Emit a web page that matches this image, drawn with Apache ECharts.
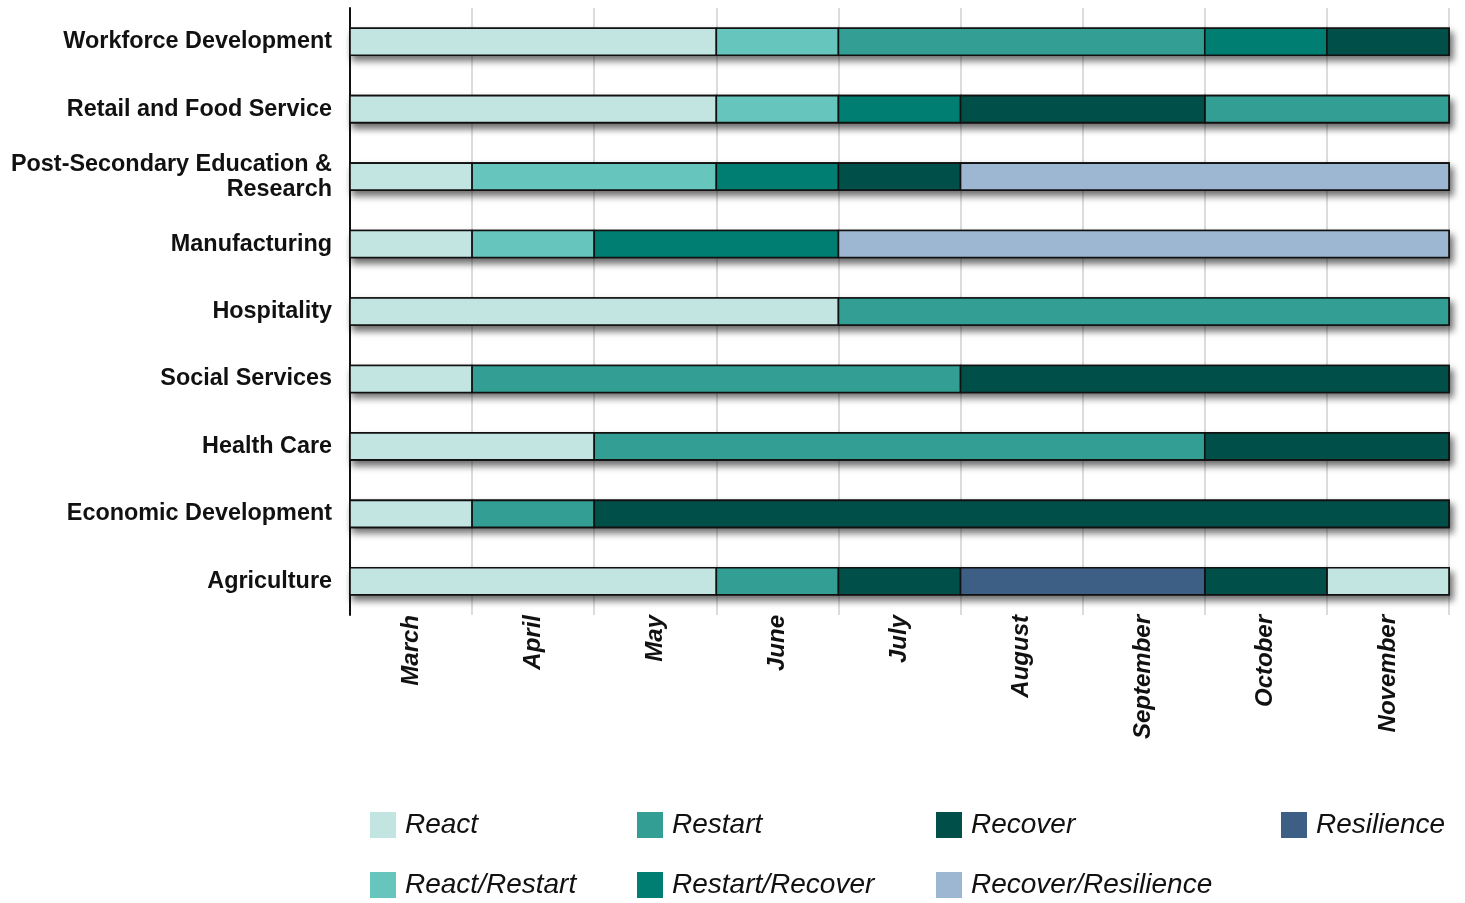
<!DOCTYPE html>
<html>

<head>
    <meta charset="utf8">
    <script src="https://cdn.jsdelivr.net/npm/echarts@6/dist/echarts.min.js"></script>
    <style>
        html, body { margin: 0; padding: 0; background: #fff; }
        #main { width: 1465px; height: 903px; }
    </style>
</head>

<body>
    <div id="main"></div>
    <script type="text/javascript">
        // months on the x axis
        var months = ['March', 'April', 'May', 'June', 'July', 'August', 'September', 'October', 'November'];

        // sectors, top to bottom
        var sectors = ['Workforce Development', 'Retail and Food Service', 'Post-Secondary Education &\nResearch',
            'Manufacturing', 'Hospitality', 'Social Services', 'Health Care', 'Economic Development', 'Agriculture'];

        var phases = ['React', 'React/Restart', 'Restart', 'Restart/Recover', 'Recover', 'Recover/Resilience', 'Resilience'];
        var phaseColors = ['#c2e5e2', '#66c5bd', '#339e94', '#007e72', '#004f48', '#9db6d1', '#3e5f85'];

        // [phase, number of months], in order from March
        var workforce = [['React', 3], ['React/Restart', 1], ['Restart', 3], ['Restart/Recover', 1], ['Recover', 1]];
        var retail = [['React', 3], ['React/Restart', 1], ['Restart/Recover', 1], ['Recover', 2], ['Restart', 2]];
        var postSecondary = [['React', 1], ['React/Restart', 2], ['Restart/Recover', 1], ['Recover', 1], ['Recover/Resilience', 4]];
        var manufacturing = [['React', 1], ['React/Restart', 1], ['Restart/Recover', 2], ['Recover/Resilience', 5]];
        var hospitality = [['React', 4], ['Restart', 5]];
        var socialServices = [['React', 1], ['Restart', 4], ['Recover', 4]];
        var healthCare = [['React', 2], ['Restart', 5], ['Recover', 2]];
        var economicDev = [['React', 1], ['Restart', 1], ['Recover', 7]];
        var agriculture = [['React', 3], ['Restart', 1], ['Recover', 1], ['Resilience', 2], ['Recover', 1], ['React', 1]];

        var rows = [workforce, retail, postSecondary, manufacturing, hospitality, socialServices, healthCare, economicDev, agriculture];

        var BAR_H = 27;

        // one list of [row, start, end] per phase
        var byPhase = {};
        phases.forEach(function (p) { byPhase[p] = []; });
        var shadowData = [];
        rows.forEach(function (segs, r) {
            var pos = 0;
            segs.forEach(function (s) {
                byPhase[s[0]].push([r, pos, pos + s[1]]);
                pos += s[1];
            });
            shadowData.push([r, 0, pos]);
        });

        function makeRender(withShadow) {
            return function (params, api) {
                var r = api.value(0);
                var p0 = api.coord([api.value(1), r]);
                var p1 = api.coord([api.value(2), r]);
                var style = {
                    fill: withShadow ? '#888' : api.visual('color'),
                    stroke: '#111',
                    lineWidth: 1.6
                };
                if (withShadow) {
                    style.shadowBlur = 7;
                    style.shadowOffsetY = 5;
                    style.shadowOffsetX = 3;
                    style.shadowColor = 'rgba(0,0,0,0.6)';
                }
                return {
                    type: 'rect',
                    shape: { x: p0[0], y: p0[1] - BAR_H / 2, width: p1[0] - p0[0], height: BAR_H },
                    style: style
                };
            };
        }

        var series = [{
            name: 'shadow',
            type: 'custom',
            renderItem: makeRender(true),
            encode: { x: [1, 2], y: 0 },
            data: shadowData,
            silent: true,
            z: 1
        }];
        phases.forEach(function (p, i) {
            series.push({
                name: p,
                type: 'custom',
                renderItem: makeRender(false),
                encode: { x: [1, 2], y: 0 },
                itemStyle: { color: phaseColors[i] },
                data: byPhase[p],
                z: 2
            });
        });

        var legendText = {
            fontSize: 28, fontStyle: 'italic', color: '#111', fontFamily: 'Liberation Sans',
            lineHeight: 28, padding: [0, 0, 0, 4]
        };
        function legendCol(left, names) {
            return {
                orient: 'vertical', left: left, top: 811, padding: 0,
                itemWidth: 26, itemHeight: 26, itemGap: 32,
                icon: 'rect', data: names, textStyle: legendText,
                selectedMode: false
            };
        }

        var myChart = echarts.init(document.getElementById('main'));
        var option = {
            animation: false,
            backgroundColor: '#fff',
            grid: { left: 350, right: 16, top: 8, bottom: 288 },
            legend: [
                legendCol(370, ['React', 'React/Restart']),
                legendCol(637, ['Restart', 'Restart/Recover']),
                legendCol(936, ['Recover', 'Recover/Resilience']),
                legendCol(1281, ['Resilience'])
            ],
            xAxis: [{
                type: 'value', min: 0, max: 9, interval: 1,
                axisLine: { show: false }, axisTick: { show: false }, axisLabel: { show: false },
                splitLine: { show: true, lineStyle: { color: '#dcdcdc', width: 2 } }
            }, {
                type: 'category', data: months, position: 'bottom', boundaryGap: true,
                axisLine: { show: false }, axisTick: { show: false },
                axisLabel: {
                    rotate: 90, margin: 0, fontSize: 24, fontWeight: 'bold', fontStyle: 'italic',
                    color: '#111', fontFamily: 'Liberation Sans'
                }
            }],
            yAxis: {
                type: 'category', data: sectors, inverse: true,
                axisLine: { show: true, lineStyle: { color: '#111', width: 2 } },
                axisTick: { show: false },
                splitLine: { show: false },
                axisLabel: {
                    margin: 18, fontSize: 23.4, fontWeight: 'bold', color: '#111',
                    fontFamily: 'Liberation Sans', lineHeight: 25
                }
            },
            series: series
        };
        myChart.setOption(option);
    </script>
</body>

</html>
